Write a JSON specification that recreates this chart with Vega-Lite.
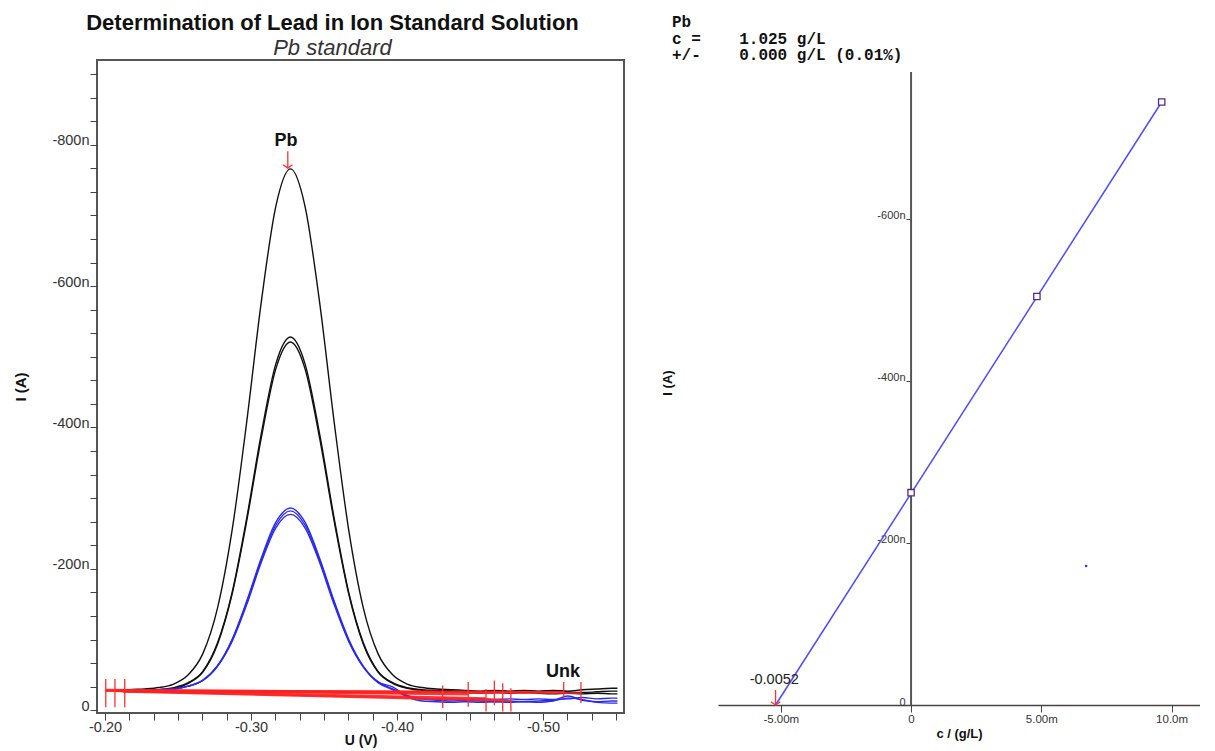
{
  "$schema": "https://vega.github.io/schema/vega-lite/v6.json",
  "background": "white",
  "padding": {"left": 12, "top": 11, "right": 0, "bottom": 0},
  "bounds": "flush",
  "spacing": 94,
  "config": {
    "font": "Liberation Sans",
    "axis": {"labelFont": "Liberation Sans", "titleFont": "Liberation Sans", "grid": false},
    "title": {"font": "Liberation Sans"},
    "text": {"font": "Liberation Sans"}
  },
  "datasets": {
    "curves": [
      {"curve":"A1","type":"addition","u":-0.212,"i":-28},{"curve":"A1","type":"addition","u":-0.217,"i":-29},{"curve":"A1","type":"addition","u":-0.227,"i":-30},{"curve":"A1","type":"addition","u":-0.237,"i":-32},{"curve":"A1","type":"addition","u":-0.247,"i":-37},{"curve":"A1","type":"addition","u":-0.257,"i":-50},{"curve":"A1","type":"addition","u":-0.267,"i":-80},{"curve":"A1","type":"addition","u":-0.277,"i":-144},{"curve":"A1","type":"addition","u":-0.287,"i":-254},{"curve":"A1","type":"addition","u":-0.297,"i":-407},{"curve":"A1","type":"addition","u":-0.307,"i":-577},{"curve":"A1","type":"addition","u":-0.317,"i":-713},{"curve":"A1","type":"addition","u":-0.327,"i":-766},{"curve":"A1","type":"addition","u":-0.337,"i":-713},{"curve":"A1","type":"addition","u":-0.347,"i":-577},{"curve":"A1","type":"addition","u":-0.357,"i":-407},{"curve":"A1","type":"addition","u":-0.367,"i":-254},{"curve":"A1","type":"addition","u":-0.377,"i":-144},{"curve":"A1","type":"addition","u":-0.387,"i":-80},{"curve":"A1","type":"addition","u":-0.397,"i":-50},{"curve":"A1","type":"addition","u":-0.407,"i":-37},{"curve":"A1","type":"addition","u":-0.417,"i":-32},{"curve":"A1","type":"addition","u":-0.427,"i":-30},{"curve":"A1","type":"addition","u":-0.437,"i":-29},{"curve":"A1","type":"addition","u":-0.447,"i":-28},{"curve":"A1","type":"addition","u":-0.457,"i":-27},{"curve":"A1","type":"addition","u":-0.467,"i":-28},{"curve":"A1","type":"addition","u":-0.477,"i":-27},{"curve":"A1","type":"addition","u":-0.487,"i":-28},{"curve":"A1","type":"addition","u":-0.497,"i":-27},{"curve":"A1","type":"addition","u":-0.507,"i":-28},{"curve":"A1","type":"addition","u":-0.517,"i":-27},{"curve":"A1","type":"addition","u":-0.527,"i":-29},{"curve":"A1","type":"addition","u":-0.537,"i":-30},{"curve":"A1","type":"addition","u":-0.547,"i":-31},{"curve":"A1","type":"addition","u":-0.551,"i":-31},
      {"curve":"A2","type":"addition","u":-0.212,"i":-27},{"curve":"A2","type":"addition","u":-0.217,"i":-27.5},{"curve":"A2","type":"addition","u":-0.227,"i":-28},{"curve":"A2","type":"addition","u":-0.237,"i":-29},{"curve":"A2","type":"addition","u":-0.247,"i":-32},{"curve":"A2","type":"addition","u":-0.257,"i":-39},{"curve":"A2","type":"addition","u":-0.267,"i":-55},{"curve":"A2","type":"addition","u":-0.277,"i":-95},{"curve":"A2","type":"addition","u":-0.287,"i":-166},{"curve":"A2","type":"addition","u":-0.297,"i":-271},{"curve":"A2","type":"addition","u":-0.307,"i":-391},{"curve":"A2","type":"addition","u":-0.317,"i":-490},{"curve":"A2","type":"addition","u":-0.327,"i":-528},{"curve":"A2","type":"addition","u":-0.337,"i":-490},{"curve":"A2","type":"addition","u":-0.347,"i":-391},{"curve":"A2","type":"addition","u":-0.357,"i":-271},{"curve":"A2","type":"addition","u":-0.367,"i":-166},{"curve":"A2","type":"addition","u":-0.377,"i":-95},{"curve":"A2","type":"addition","u":-0.387,"i":-55},{"curve":"A2","type":"addition","u":-0.397,"i":-39},{"curve":"A2","type":"addition","u":-0.407,"i":-32},{"curve":"A2","type":"addition","u":-0.417,"i":-29},{"curve":"A2","type":"addition","u":-0.427,"i":-28},{"curve":"A2","type":"addition","u":-0.437,"i":-27.5},{"curve":"A2","type":"addition","u":-0.447,"i":-27},{"curve":"A2","type":"addition","u":-0.457,"i":-26},{"curve":"A2","type":"addition","u":-0.467,"i":-27},{"curve":"A2","type":"addition","u":-0.477,"i":-26},{"curve":"A2","type":"addition","u":-0.487,"i":-25},{"curve":"A2","type":"addition","u":-0.497,"i":-26},{"curve":"A2","type":"addition","u":-0.507,"i":-27},{"curve":"A2","type":"addition","u":-0.517,"i":-26},{"curve":"A2","type":"addition","u":-0.527,"i":-25},{"curve":"A2","type":"addition","u":-0.537,"i":-26},{"curve":"A2","type":"addition","u":-0.547,"i":-27},{"curve":"A2","type":"addition","u":-0.551,"i":-27},
      {"curve":"A3","type":"addition","u":-0.212,"i":-26},{"curve":"A3","type":"addition","u":-0.217,"i":-26.5},{"curve":"A3","type":"addition","u":-0.227,"i":-27},{"curve":"A3","type":"addition","u":-0.237,"i":-28},{"curve":"A3","type":"addition","u":-0.247,"i":-30},{"curve":"A3","type":"addition","u":-0.257,"i":-38},{"curve":"A3","type":"addition","u":-0.267,"i":-54},{"curve":"A3","type":"addition","u":-0.277,"i":-93},{"curve":"A3","type":"addition","u":-0.287,"i":-164},{"curve":"A3","type":"addition","u":-0.297,"i":-267},{"curve":"A3","type":"addition","u":-0.307,"i":-385},{"curve":"A3","type":"addition","u":-0.317,"i":-483},{"curve":"A3","type":"addition","u":-0.327,"i":-521},{"curve":"A3","type":"addition","u":-0.337,"i":-483},{"curve":"A3","type":"addition","u":-0.347,"i":-385},{"curve":"A3","type":"addition","u":-0.357,"i":-267},{"curve":"A3","type":"addition","u":-0.367,"i":-164},{"curve":"A3","type":"addition","u":-0.377,"i":-93},{"curve":"A3","type":"addition","u":-0.387,"i":-54},{"curve":"A3","type":"addition","u":-0.397,"i":-38},{"curve":"A3","type":"addition","u":-0.407,"i":-31},{"curve":"A3","type":"addition","u":-0.417,"i":-28},{"curve":"A3","type":"addition","u":-0.427,"i":-27},{"curve":"A3","type":"addition","u":-0.437,"i":-26},{"curve":"A3","type":"addition","u":-0.447,"i":-25},{"curve":"A3","type":"addition","u":-0.457,"i":-24},{"curve":"A3","type":"addition","u":-0.467,"i":-25},{"curve":"A3","type":"addition","u":-0.477,"i":-24},{"curve":"A3","type":"addition","u":-0.487,"i":-25},{"curve":"A3","type":"addition","u":-0.497,"i":-24},{"curve":"A3","type":"addition","u":-0.507,"i":-23},{"curve":"A3","type":"addition","u":-0.517,"i":-24},{"curve":"A3","type":"addition","u":-0.527,"i":-23},{"curve":"A3","type":"addition","u":-0.537,"i":-24},{"curve":"A3","type":"addition","u":-0.547,"i":-23},{"curve":"A3","type":"addition","u":-0.551,"i":-23},
      {"curve":"S1","type":"sample","u":-0.212,"i":-28},{"curve":"S1","type":"sample","u":-0.217,"i":-28},{"curve":"S1","type":"sample","u":-0.227,"i":-28.5},{"curve":"S1","type":"sample","u":-0.237,"i":-29},{"curve":"S1","type":"sample","u":-0.247,"i":-30},{"curve":"S1","type":"sample","u":-0.257,"i":-34},{"curve":"S1","type":"sample","u":-0.267,"i":-42.5},{"curve":"S1","type":"sample","u":-0.277,"i":-63},{"curve":"S1","type":"sample","u":-0.287,"i":-100},{"curve":"S1","type":"sample","u":-0.297,"i":-154},{"curve":"S1","type":"sample","u":-0.307,"i":-215},{"curve":"S1","type":"sample","u":-0.317,"i":-266},{"curve":"S1","type":"sample","u":-0.327,"i":-286},{"curve":"S1","type":"sample","u":-0.337,"i":-266},{"curve":"S1","type":"sample","u":-0.347,"i":-215},{"curve":"S1","type":"sample","u":-0.357,"i":-154},{"curve":"S1","type":"sample","u":-0.367,"i":-100},{"curve":"S1","type":"sample","u":-0.377,"i":-62},{"curve":"S1","type":"sample","u":-0.387,"i":-40},{"curve":"S1","type":"sample","u":-0.397,"i":-33},{"curve":"S1","type":"sample","u":-0.407,"i":-20},{"curve":"S1","type":"sample","u":-0.417,"i":-16},{"curve":"S1","type":"sample","u":-0.427,"i":-14},{"curve":"S1","type":"sample","u":-0.437,"i":-13},{"curve":"S1","type":"sample","u":-0.447,"i":-14},{"curve":"S1","type":"sample","u":-0.457,"i":-13},{"curve":"S1","type":"sample","u":-0.467,"i":-12},{"curve":"S1","type":"sample","u":-0.477,"i":-13},{"curve":"S1","type":"sample","u":-0.487,"i":-12},{"curve":"S1","type":"sample","u":-0.497,"i":-13},{"curve":"S1","type":"sample","u":-0.507,"i":-14},{"curve":"S1","type":"sample","u":-0.517,"i":-20},{"curve":"S1","type":"sample","u":-0.527,"i":-14},{"curve":"S1","type":"sample","u":-0.537,"i":-12},{"curve":"S1","type":"sample","u":-0.547,"i":-13},{"curve":"S1","type":"sample","u":-0.551,"i":-13},
      {"curve":"S2","type":"sample","u":-0.212,"i":-28},{"curve":"S2","type":"sample","u":-0.217,"i":-28},{"curve":"S2","type":"sample","u":-0.227,"i":-28.5},{"curve":"S2","type":"sample","u":-0.237,"i":-29},{"curve":"S2","type":"sample","u":-0.247,"i":-30},{"curve":"S2","type":"sample","u":-0.257,"i":-34},{"curve":"S2","type":"sample","u":-0.267,"i":-42},{"curve":"S2","type":"sample","u":-0.277,"i":-62},{"curve":"S2","type":"sample","u":-0.287,"i":-99},{"curve":"S2","type":"sample","u":-0.297,"i":-152},{"curve":"S2","type":"sample","u":-0.307,"i":-212},{"curve":"S2","type":"sample","u":-0.317,"i":-262},{"curve":"S2","type":"sample","u":-0.327,"i":-282},{"curve":"S2","type":"sample","u":-0.337,"i":-262},{"curve":"S2","type":"sample","u":-0.347,"i":-212},{"curve":"S2","type":"sample","u":-0.357,"i":-152},{"curve":"S2","type":"sample","u":-0.367,"i":-98},{"curve":"S2","type":"sample","u":-0.377,"i":-61},{"curve":"S2","type":"sample","u":-0.387,"i":-39},{"curve":"S2","type":"sample","u":-0.397,"i":-29},{"curve":"S2","type":"sample","u":-0.407,"i":-19},{"curve":"S2","type":"sample","u":-0.417,"i":-13},{"curve":"S2","type":"sample","u":-0.427,"i":-12},{"curve":"S2","type":"sample","u":-0.437,"i":-11},{"curve":"S2","type":"sample","u":-0.447,"i":-12},{"curve":"S2","type":"sample","u":-0.457,"i":-11},{"curve":"S2","type":"sample","u":-0.467,"i":-12},{"curve":"S2","type":"sample","u":-0.477,"i":-11},{"curve":"S2","type":"sample","u":-0.487,"i":-12},{"curve":"S2","type":"sample","u":-0.497,"i":-11},{"curve":"S2","type":"sample","u":-0.507,"i":-13},{"curve":"S2","type":"sample","u":-0.517,"i":-17},{"curve":"S2","type":"sample","u":-0.527,"i":-15},{"curve":"S2","type":"sample","u":-0.537,"i":-11},{"curve":"S2","type":"sample","u":-0.547,"i":-10},{"curve":"S2","type":"sample","u":-0.551,"i":-10},
      {"curve":"S3","type":"sample","u":-0.212,"i":-28},{"curve":"S3","type":"sample","u":-0.217,"i":-28},{"curve":"S3","type":"sample","u":-0.227,"i":-28.5},{"curve":"S3","type":"sample","u":-0.237,"i":-29},{"curve":"S3","type":"sample","u":-0.247,"i":-30},{"curve":"S3","type":"sample","u":-0.257,"i":-34},{"curve":"S3","type":"sample","u":-0.267,"i":-42},{"curve":"S3","type":"sample","u":-0.277,"i":-62},{"curve":"S3","type":"sample","u":-0.287,"i":-97},{"curve":"S3","type":"sample","u":-0.297,"i":-149},{"curve":"S3","type":"sample","u":-0.307,"i":-209},{"curve":"S3","type":"sample","u":-0.317,"i":-258},{"curve":"S3","type":"sample","u":-0.327,"i":-277},{"curve":"S3","type":"sample","u":-0.337,"i":-258},{"curve":"S3","type":"sample","u":-0.347,"i":-209},{"curve":"S3","type":"sample","u":-0.357,"i":-149},{"curve":"S3","type":"sample","u":-0.367,"i":-97},{"curve":"S3","type":"sample","u":-0.377,"i":-61},{"curve":"S3","type":"sample","u":-0.387,"i":-40},{"curve":"S3","type":"sample","u":-0.397,"i":-30},{"curve":"S3","type":"sample","u":-0.407,"i":-21},{"curve":"S3","type":"sample","u":-0.417,"i":-16},{"curve":"S3","type":"sample","u":-0.427,"i":-15},{"curve":"S3","type":"sample","u":-0.437,"i":-16},{"curve":"S3","type":"sample","u":-0.447,"i":-15},{"curve":"S3","type":"sample","u":-0.457,"i":-16},{"curve":"S3","type":"sample","u":-0.467,"i":-15},{"curve":"S3","type":"sample","u":-0.477,"i":-16},{"curve":"S3","type":"sample","u":-0.487,"i":-15},{"curve":"S3","type":"sample","u":-0.497,"i":-16},{"curve":"S3","type":"sample","u":-0.507,"i":-15},{"curve":"S3","type":"sample","u":-0.517,"i":-16},{"curve":"S3","type":"sample","u":-0.527,"i":-18},{"curve":"S3","type":"sample","u":-0.537,"i":-16},{"curve":"S3","type":"sample","u":-0.547,"i":-17},{"curve":"S3","type":"sample","u":-0.551,"i":-17}
    ],
    "baselines": [
      {"line":"L1","u":-0.2005,"i":-29},{"line":"L1","u":-0.4313,"i":-26},
      {"line":"L2","u":-0.2068,"i":-28},{"line":"L2","u":-0.4488,"i":-22},
      {"line":"L3","u":-0.2135,"i":-28},{"line":"L3","u":-0.461,"i":-17},
      {"line":"L4","u":-0.2005,"i":-27},{"line":"L4","u":-0.4667,"i":-24},
      {"line":"L5","u":-0.2068,"i":-27},{"line":"L5","u":-0.4724,"i":-15},
      {"line":"L6","u":-0.2135,"i":-26},{"line":"L6","u":-0.478,"i":-13},
      {"line":"L7","u":-0.2005,"i":-28},{"line":"L7","u":-0.5142,"i":-26},
      {"line":"L8","u":-0.2068,"i":-27},{"line":"L8","u":-0.526,"i":-24}
    ],
    "markers": [
      {"u":-0.2005,"i":-44,"i2":-4},{"u":-0.2068,"i":-44,"i2":-4},{"u":-0.2135,"i":-44,"i2":-4},
      {"u":-0.4313,"i":-35,"i2":-3},{"u":-0.4488,"i":-40,"i2":-5},{"u":-0.461,"i":-30,"i2":2},
      {"u":-0.4667,"i":-42,"i2":-7},{"u":-0.4724,"i":-38,"i2":2},{"u":-0.478,"i":-31,"i2":2},
      {"u":-0.5142,"i":-40,"i2":-17},{"u":-0.526,"i":-40,"i2":-10}
    ],
    "peakLabels": [
      {"u":-0.324,"i":-806,"label":"Pb"},
      {"u":-0.5137,"i":-54,"label":"Unk"}
    ],
    "peakArrow": [{"u":-0.3252,"i":-791,"i2":-768}],
    "peakArrowHead": [{"u":-0.3252,"i":-767}],
    "calLine": [{"c":-5.2,"i":0},{"c":9.62,"i":-744}],
    "calPoints": [{"c":0,"i":-262},{"c":4.83,"i":-504},{"c":9.62,"i":-744}],
    "stray": [{"c":6.72,"i":-171.5}],
    "yLine": [{"c":0,"i":0,"i2":-781}],
    "icArrow": [{"c":-5.2,"i":-18.5,"i2":0}],
    "icArrowHead": [{"c":-5.2,"i":0}],
    "icLabel": [{"c":-5.25,"i":-31,"label":"-0.0052"}]
  },
  "hconcat": [
    {
      "width": 527,
      "height": 653,
      "view": {"stroke": "#555555", "strokeWidth": 2},
      "title": {
        "text": "Determination of Lead in Ion Standard Solution",
        "subtitle": "Pb standard",
        "fontSize": 22,
        "fontWeight": "bold",
        "color": "#111111",
        "subtitleFontSize": 22,
        "subtitleFontStyle": "italic",
        "subtitleColor": "#333333",
        "subtitleFont": "Liberation Sans",
        "subtitlePadding": 3,
        "anchor": "middle",
        "dx": -28,
        "offset": 0
      },
      "encoding": {
        "x": {
          "field": "u", "type": "quantitative",
          "scale": {"domain": [-0.5555, -0.1945], "reverse": true, "nice": false, "zero": false},
          "axis": {
            "title": "U (V)",
            "values": [-0.2,-0.216667,-0.233333,-0.25,-0.266667,-0.283333,-0.3,-0.316667,-0.333333,-0.35,-0.366667,-0.383333,-0.4,-0.416667,-0.433333,-0.45,-0.466667,-0.483333,-0.5,-0.516667,-0.533333,-0.55],
            "labelExpr": "abs(datum.value*10 - round(datum.value*10)) < 0.001 ? ((datum.value < 0 ? '-' : '') + format(abs(datum.value), '.2f')) : ''",
            "labelOverlap": false,
            "labelFlush": false,
            "tickSize": 7,
            "tickColor": "#444444",
            "domain": false,
            "labelFontSize": 14.5,
            "labelColor": "#333333",
            "labelPadding": 0,
            "titleFontSize": 14,
            "titleFontWeight": "bold",
            "titleColor": "#111111",
            "titlePadding": 0
          }
        },
        "y": {
          "field": "i", "type": "quantitative",
          "scale": {"domain": [-920, 4], "reverse": true, "nice": false, "zero": false},
          "axis": {
            "title": "I (A)",
            "values": [0,-33.333,-66.667,-100,-133.333,-166.667,-200,-233.333,-266.667,-300,-333.333,-366.667,-400,-433.333,-466.667,-500,-533.333,-566.667,-600,-633.333,-666.667,-700,-733.333,-766.667,-800,-833.333,-866.667,-900],
            "labelExpr": "abs(datum.value/200 - round(datum.value/200)) < 0.001 ? (datum.value == 0 ? '0' : '-' + abs(datum.value) + 'n') : ''",
            "labelOverlap": false,
            "labelFlush": false,
            "tickSize": 7,
            "tickColor": "#444444",
            "domain": false,
            "labelFontSize": 14.5,
            "labelColor": "#333333",
            "labelPadding": 1,
            "labelBaseline": "alphabetic",
            "titleFontSize": 15,
            "titleFontWeight": "bold",
            "titleColor": "#111111",
            "titlePadding": 23
          }
        }
      },
      "layer": [
        {
          "data": {"name": "curves"},
          "mark": {"type": "line", "interpolate": "monotone", "strokeWidth": 1.4, "clip": true},
          "encoding": {
            "detail": {"field": "curve"},
            "color": {"field": "type", "type": "nominal", "scale": {"domain": ["addition", "sample"], "range": ["#111111", "#2a2aee"]}, "legend": null}
          }
        },
        {
          "data": {"name": "baselines"},
          "mark": {"type": "line", "color": "#ff2020", "strokeWidth": 1.8, "opacity": 0.9},
          "encoding": {"detail": {"field": "line"}}
        },
        {
          "data": {"name": "markers"},
          "mark": {"type": "rule", "color": "#ff3030", "strokeWidth": 1.3},
          "encoding": {"y2": {"field": "i2"}}
        },
        {
          "data": {"name": "peakArrow"},
          "mark": {"type": "rule", "color": "#ff3030", "strokeWidth": 1.3},
          "encoding": {"y2": {"field": "i2"}}
        },
        {
          "data": {"name": "peakArrowHead"},
          "mark": {"type": "point", "shape": "M -1 -0.7 L 0 0 L 1 -0.7", "filled": false, "color": "#ff3030", "strokeWidth": 1.3, "size": 90, "opacity": 1}
        },
        {
          "data": {"name": "peakLabels"},
          "mark": {"type": "text", "fontSize": 18, "fontWeight": "bold", "color": "#111111", "align": "center", "baseline": "middle"},
          "encoding": {"text": {"field": "label"}}
        }
      ]
    },
    {
      "width": 482,
      "height": 645,
      "view": {"stroke": null},
      "title": {
        "text": ["Pb", "c =\u00a0\u00a0\u00a0\u00a01.025 g/L", "+/-\u00a0\u00a0\u00a0\u00a00.000 g/L (0.01%)"],
        "font": "Liberation Mono",
        "fontSize": 16,
        "fontWeight": "bold",
        "color": "#111111",
        "lineHeight": 16.7,
        "anchor": "start",
        "frame": "group",
        "dx": -46,
        "offset": -3.5
      },
      "encoding": {
        "x": {
          "field": "c", "type": "quantitative",
          "scale": {"domain": [-7.41, 11.09], "nice": false, "zero": false},
          "axis": {
            "title": "c / (g/L)",
            "values": [-5, 0, 5, 10],
            "labelExpr": "datum.value == 0 ? '0' : (datum.value == 10 ? '10.0m' : ((datum.value < 0 ? '-' : '') + format(abs(datum.value), '.2f') + 'm'))",
            "labelOverlap": false,
            "labelFlush": false,
            "tickSize": 7,
            "tickColor": "#444444",
            "domainColor": "#444444",
            "domainWidth": 1.5,
            "labelFontSize": 11.5,
            "labelColor": "#333333",
            "labelPadding": 1,
            "titleFontSize": 13,
            "titleFontWeight": "bold",
            "titleColor": "#111111",
            "titlePadding": 3
          }
        },
        "y": {
          "field": "i", "type": "quantitative",
          "scale": {"domain": [-795.8, 0], "reverse": true, "nice": false, "zero": false},
          "axis": {
            "title": "I (A)",
            "values": [-600, -400, -200, 0],
            "labelExpr": "datum.value == 0 ? '0' : '-' + abs(datum.value) + 'n'",
            "offset": -193,
            "domain": false,
            "tickSize": 5,
            "tickColor": "#444444",
            "labelFontSize": 11,
            "labelColor": "#333333",
            "labelPadding": 1,
            "labelBaseline": "alphabetic",
            "titleFontSize": 13,
            "titleFontWeight": "bold",
            "titleColor": "#111111",
            "titleX": -244,
            "titleBaseline": "middle"
          }
        }
      },
      "layer": [
        {
          "data": {"name": "yLine"},
          "mark": {"type": "rule", "color": "#555555", "strokeWidth": 2},
          "encoding": {"y2": {"field": "i2"}}
        },
        {
          "data": {"name": "calLine"},
          "mark": {"type": "line", "color": "#4b4bff", "strokeWidth": 1.5},
          "encoding": {}
        },
        {
          "data": {"name": "calPoints"},
          "mark": {"type": "point", "shape": "square", "filled": false, "fill": "white", "fillOpacity": 1, "color": "#5a2a88", "strokeWidth": 1.3, "size": 40, "opacity": 1}
        },
        {
          "data": {"name": "stray"},
          "mark": {"type": "point", "shape": "square", "filled": true, "color": "#3030ff", "size": 5, "opacity": 1}
        },
        {
          "data": {"name": "icArrow"},
          "mark": {"type": "rule", "color": "#ff3030", "strokeWidth": 1.3},
          "encoding": {"y2": {"field": "i2"}}
        },
        {
          "data": {"name": "icArrowHead"},
          "mark": {"type": "point", "shape": "M -1 -0.7 L 0 0 L 1 -0.7", "filled": false, "color": "#ff3030", "strokeWidth": 1.3, "size": 90, "opacity": 1}
        },
        {
          "data": {"name": "icLabel"},
          "mark": {"type": "text", "fontSize": 14.5, "color": "#222222", "align": "center", "baseline": "middle"},
          "encoding": {"text": {"field": "label"}}
        }
      ]
    }
  ]
}
